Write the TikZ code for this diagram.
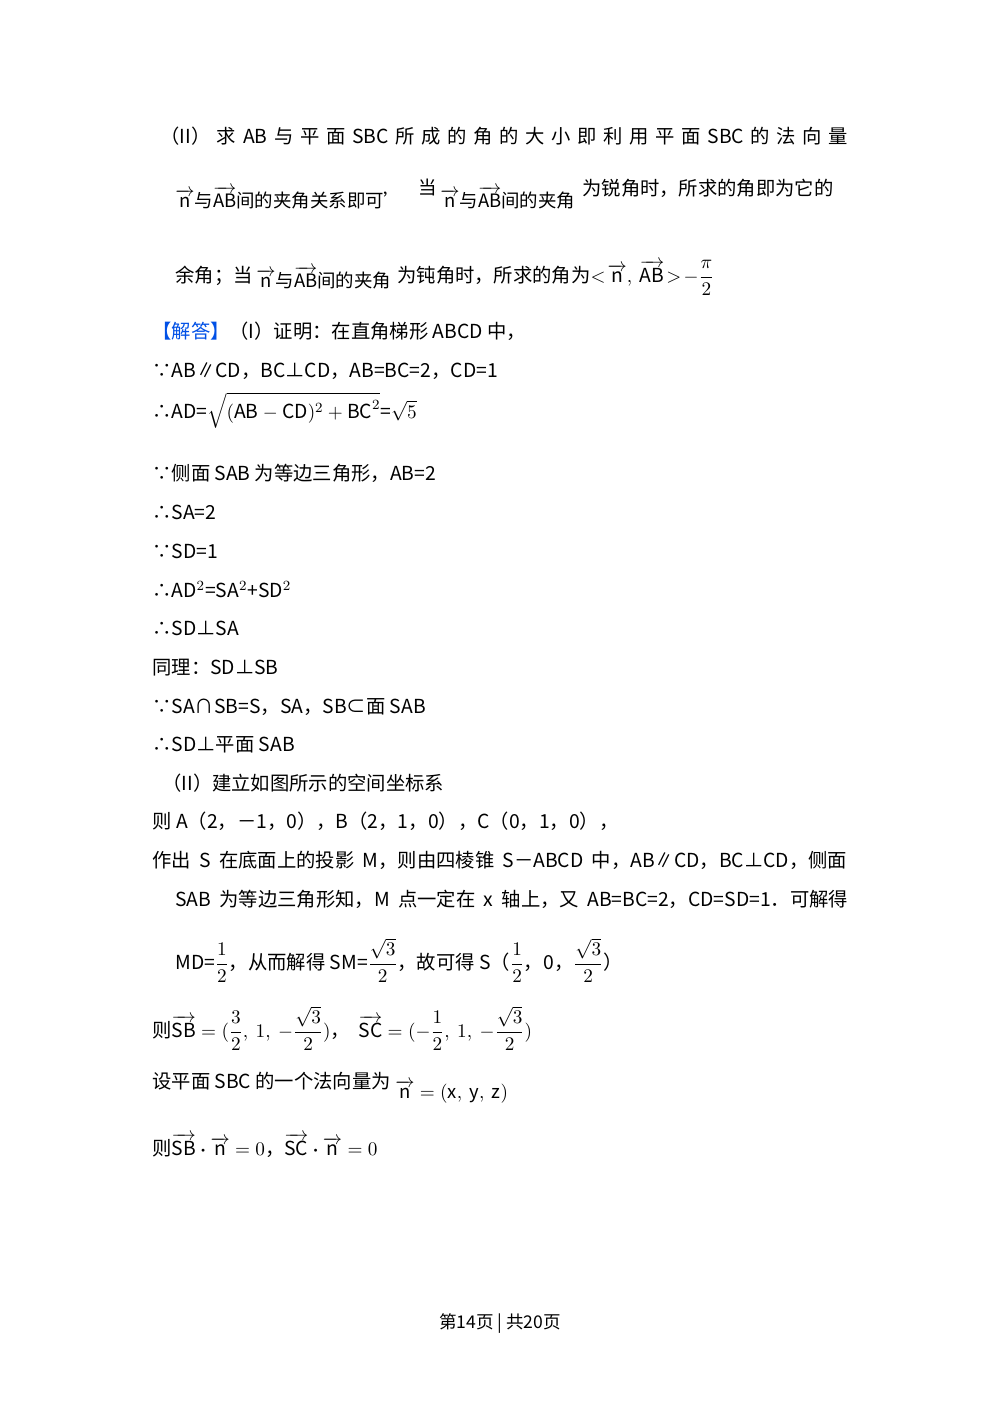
\documentclass[tikz,border=0pt]{standalone}
\usepackage{amsmath}
\usepackage{fontspec}
\setmainfont{Noto Sans CJK SC}
\newcommand{\vn}{\overrightarrow{\mathrm{n}}}
\newcommand{\vv}[1]{\overrightarrow{\mathrm{#1}}}
\begin{document}
\begin{tikzpicture}[
    x=0.02cm, y=-0.02cm,
    txt/.style={anchor=base west, inner sep=0pt, font=\fontsize{11pt}{13pt}\selectfont},
    sm/.style={anchor=base west, inner sep=0pt, font=\fontsize{10.5pt}{12pt}\selectfont}
    ]
    \useasboundingbox (0,0) rectangle (1000,1416);
    % hint lines
    \node[txt] (h1) at (160,143) {\makebox[13.76cm][s]{（II） 求 AB 与 平 面 SBC 所 成 的 角 的 大 小 即 利 用 平 面 SBC 的 法 向 量}};
    \node[sm] (h2a) at (175,207) {$\vn$与$\vv{AB}$间的夹角关系即可’};
    \node[sm] (h2d) at (418,194) {当};
    \node[sm] (h2b) at (440,207) {$\vn$与$\vv{AB}$间的夹角};
    \node[txt] (h2c) at (582,195) {\makebox[5.32cm][s]{为锐角时，所求的角即为它的}};
    \node[txt] (h3a) at (175,282) {余角；当};
    \node[sm] (h3b) at (256,287) {$\vn$与$\vv{AB}$间的夹角};
    \node[txt] (h3c) at (397,282) {为钝角时，所求的角为$<\!\vn,\ \vv{AB}\!>\!-\dfrac{\pi}{2}$};
    % solution
    \node[txt] (s1) at (152,338) {\textcolor[RGB]{0,80,230}{【解答】}（I）证明：在直角梯形 ABCD 中，};
    \node[txt] (s2) at (152,377) {∵AB∥CD，BC⊥CD，AB=BC=2，CD=1};
    \node[txt] (s3) at (152,418) {∴AD=$\sqrt{(\mathrm{AB}-\mathrm{CD})^{2}+\mathrm{BC}^{2}}$=$\sqrt{5}$};
    \node[txt] (s4) at (152,480) {∵侧面 SAB 为等边三角形，AB=2};
    \node[txt] (s5) at (152,519) {∴SA=2};
    \node[txt] (s6) at (152,558) {∵SD=1};
    \node[txt] (s7) at (152,597) {∴AD$^2$=SA$^2$+SD$^2$};
    \node[txt] (s8) at (152,635) {∴SD⊥SA};
    \node[txt] (s9) at (152,674) {同理：SD⊥SB};
    \node[txt] (s10) at (152,713) {∵SA∩SB=S，SA，SB⊂面 SAB};
    \node[txt] (s11) at (152,751) {∴SD⊥平面 SAB};
    \node[txt] (s12) at (162,790) {（II）建立如图所示的空间坐标系};
    \node[txt] (s13) at (152,828) {则 A（2，－1，0），B（2，1，0），C（0，1，0），};
    \node[txt] (s14) at (152,867) {\makebox[13.9cm][s]{作出 S 在底面上的投影 M，则由四棱锥 S－ABCD 中，AB∥CD，BC⊥CD，侧面}};
    \node[txt] (s15) at (175,906) {\makebox[13.46cm][s]{SAB 为等边三角形知，M 点一定在 x 轴上，又 AB=BC=2，CD=SD=1．可解得}};
    \node[txt] (s16) at (175,969) {MD=$\dfrac{1}{2}$，从而解得 SM=$\dfrac{\sqrt{3}}{2}$，故可得 S（$\dfrac{1}{2}$，0，$\dfrac{\sqrt{3}}{2}$）};
    \node[txt] (s17) at (152,1037) {则$\vv{SB}=(\dfrac{3}{2},\ 1,\ -\dfrac{\sqrt{3}}{2})$，\ \ $\vv{SC}=(-\dfrac{1}{2},\ 1,\ -\dfrac{\sqrt{3}}{2})$};
    \node[txt] (s18) at (152,1088) {设平面 SBC 的一个法向量为};
    \node[sm] (s18b) at (395,1098) {$\vn=(\mathrm{x},\ \mathrm{y},\ \mathrm{z})$};
    \node[txt] (s19) at (152,1155) {则$\vv{SB}\boldsymbol{\cdot}\vn=0$，$\vv{SC}\boldsymbol{\cdot}\vn=0$};
    % footer
    \node[anchor=base, inner sep=0pt, font=\fontsize{10pt}{12pt}\selectfont] (foot) at (500,1328) {第14页 | 共20页};
\end{tikzpicture}
\end{document}
